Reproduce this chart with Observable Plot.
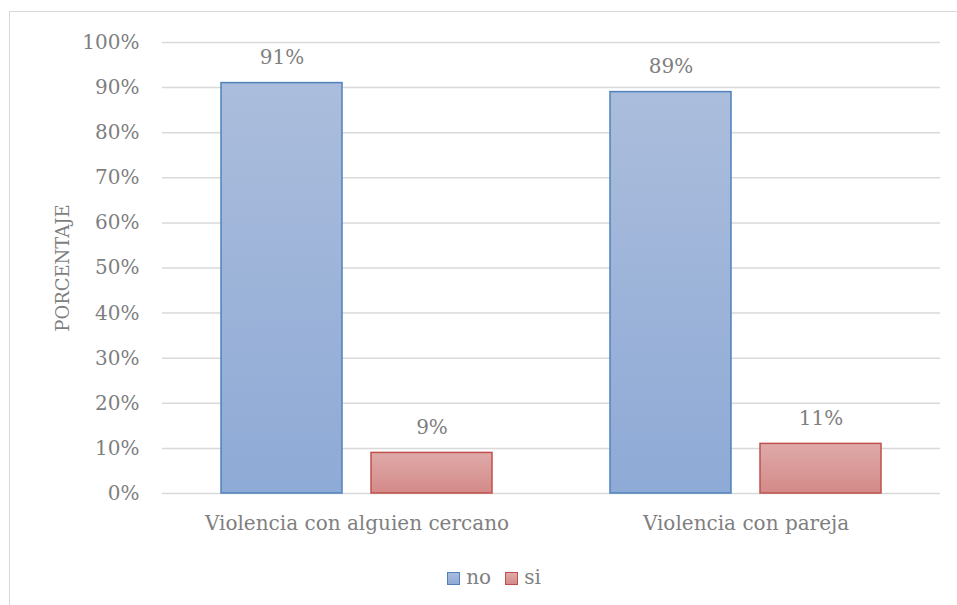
<!DOCTYPE html>
<html>
<head>
<meta charset="utf-8">
<script src="https://cdn.jsdelivr.net/npm/d3@7"></script>
<script src="https://cdn.jsdelivr.net/npm/@observablehq/plot@0.6"></script>
<style>
  html, body { margin: 0; padding: 0; background: #fff; overflow: hidden; }
  body { width: 957px; height: 605px; position: relative; font-family: "DejaVu Serif", serif; }
  #frame { position: absolute; left: 9px; top: 11px; width: 1000px; height: 700px; border: 1.5px solid #d9d9d9; box-sizing: border-box; }
  #chart { position: absolute; left: 0; top: 0; }
  #legend { position: absolute; top: 565px; left: 0; width: 988px; text-align: center; font-size: 20px; color: #7f7f7f; }
  .sw { display: inline-block; width: 11px; height: 11px; margin-right: 6px; vertical-align: -1px; }
  .item { display: inline-block; margin: 0 7px; }
</style>
</head>
<body>
<div id="frame"></div>
<div id="chart"></div>
<div id="legend"></div>
<script>
const categories = ["Violencia con alguien cercano", "Violencia con pareja"];
const series = ["no", "si"];
const valuesNo = [0.91, 0.89];
const valuesSi = [0.09, 0.11];
const yTicks = [0, 0.1, 0.2, 0.3, 0.4, 0.5, 0.6, 0.7, 0.8, 0.9, 1.0];

const data = [];
categories.forEach((c, i) => {
  data.push({category: c, series: "no", value: valuesNo[i]});
  data.push({category: c, series: "si", value: valuesSi[i]});
});

const fillFor = {no: "url(#gradNo)", si: "url(#gradSi)"};
const strokeFor = {no: "#4f81bd", si: "#c0504d"};
const textColor = "#7f7f7f";
const font = "DejaVu Serif";

const chart = Plot.plot({
  width: 957,
  height: 545,
  marginLeft: 162,
  marginRight: 17,
  marginTop: 42,
  marginBottom: 52,
  style: {fontFamily: font, fontSize: "20px", color: textColor, background: "transparent", overflow: "visible"},
  fx: {domain: categories, padding: 0, label: null, axis: "bottom", tickSize: 0, tickPadding: 22},
  x: {domain: series, paddingInner: 0.193, paddingOuter: 0.393, axis: null},
  y: {domain: [0, 1], ticks: yTicks, tickFormat: d3.format(".0%"), label: null, tickSize: 0, tickPadding: 23},
  marks: [
    Plot.ruleY(yTicks, {stroke: "#d9d9d9", strokeWidth: 1.5, strokeOpacity: 1}),
    Plot.barY(data, {fx: "category", x: "series", y: "value", fill: d => fillFor[d.series], stroke: d => strokeFor[d.series], strokeWidth: 1.5, inset: 0}),
    Plot.text(data, {fx: "category", x: "series", y: "value", text: d => d3.format(".0%")(d.value), lineAnchor: "bottom", dy: -19, fill: textColor, fontSize: 20})
  ]
});

// y-axis title
d3.select(chart).append("text")
  .attr("transform", "translate(62,268) rotate(-90)")
  .attr("text-anchor", "middle")
  .attr("dominant-baseline", "central")
  .attr("fill", textColor)
  .attr("font-size", 18)
  .text("PORCENTAJE");

const defs = d3.select(chart).insert("defs", ":first-child");
const g1 = defs.append("linearGradient").attr("id", "gradNo").attr("x1", 0).attr("y1", 0).attr("x2", 0).attr("y2", 1);
g1.append("stop").attr("offset", "0%").attr("stop-color", "#abbddc");
g1.append("stop").attr("offset", "100%").attr("stop-color", "#8eaad6");
const g2 = defs.append("linearGradient").attr("id", "gradSi").attr("x1", 0).attr("y1", 0).attr("x2", 0).attr("y2", 1);
g2.append("stop").attr("offset", "0%").attr("stop-color", "#dfaaa9");
g2.append("stop").attr("offset", "100%").attr("stop-color", "#d38a88");

document.getElementById("chart").appendChild(chart);

const legend = document.getElementById("legend");
series.forEach(s => {
  const item = document.createElement("span");
  item.className = "item";
  const sw = document.createElement("span");
  sw.className = "sw";
  sw.style.background = s === "no" ? "linear-gradient(#abbddc,#8eaad6)" : "linear-gradient(#dfaaa9,#d38a88)";
  sw.style.border = "1.5px solid " + strokeFor[s];
  item.appendChild(sw);
  item.appendChild(document.createTextNode(s));
  legend.appendChild(item);
});
</script>
</body>
</html>
